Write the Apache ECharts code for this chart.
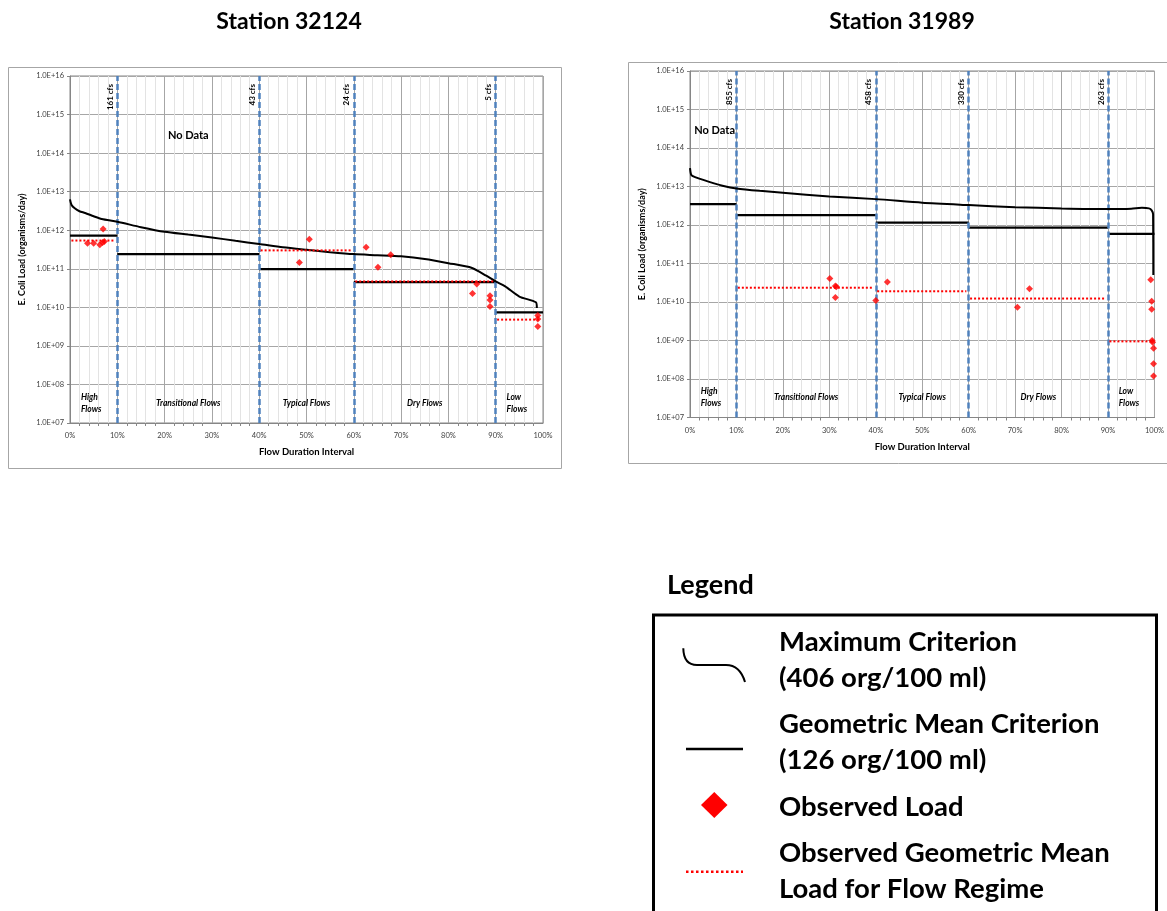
<!DOCTYPE html>
<html><head><meta charset="utf-8">
<script src="https://cdn.jsdelivr.net/npm/echarts@6/dist/echarts.min.js"></script>
<style>html,body{margin:0;padding:0;background:#fff}#c{width:1167px;height:911px}</style>
</head><body><div id="c"></div>
<script>
// ---------- data ----------
const regimeBounds = [0, 10, 40, 60, 90, 100];
const regimeNames = ['High\nFlows', 'Transitional Flows', 'Typical Flows', 'Dry Flows', 'Low\nFlows'];
const xTicks = [0, 10, 20, 30, 40, 50, 60, 70, 80, 90, 100];

// Station 32124
const s1Title = 'Station 32124';
const s1FlowLabels = ['161 cfs', '43 cfs', '24 cfs', '5 cfs'];
const s1MaxX = [0, 0.3, 1, 2, 3.2, 5, 6.7, 10, 15, 20, 25, 30, 35, 40, 45, 50, 55, 60, 65, 70, 75, 80, 85, 88, 90, 92, 95, 98.5, 98.7];
const s1MaxY = [6.3e12, 4.6e12, 3.7e12, 3.1e12, 2.8e12, 2.3e12, 1.95e12, 1.66e12, 1.2e12, 9.1e11, 7.7e11, 6.5e11, 5.3e11, 4.4e11, 3.6e11, 3.1e11, 2.7e11, 2.4e11, 2.25e11, 2.1e11, 1.8e11, 1.4e11, 1.05e11, 6.6e10, 4.7e10, 3.5e10, 1.9e10, 1.35e10, 9.6e9];
const s1GeoCrit = [7.2e11, 2.4e11, 9.8e10, 4.5e10, 7.4e9];
const s1ObsGeo = [5.4e11, null, 3.0e11, 4.7e10, 4.8e9];
const s1ObsX = [3.7, 5.0, 6.3, 6.9, 7.25, 7.0, 48.5, 50.6, 62.6, 65.1, 67.8, 85.1, 86.0, 88.8, 88.8, 88.8, 98.9, 98.9, 98.9];
const s1ObsY = [4.6e11, 4.6e11, 4.2e11, 4.8e11, 5.1e11, 1.07e12, 1.45e11, 5.8e11, 3.6e11, 1.1e11, 2.3e11, 2.3e10, 4.0e10, 2.0e10, 1.55e10, 1.05e10, 6.1e9, 5.0e9, 3.2e9];

// Station 31989
const s2Title = 'Station 31989';
const s2FlowLabels = ['855 cfs', '458 cfs', '330 cfs', '263 cfs'];
const s2MaxX = [0, 0.2, 0.5, 2, 4.3, 7, 10, 15, 20, 30, 40, 50, 60, 70, 80, 90, 95, 97.3, 98.8, 99.4, 99.7, 99.75];
const s2MaxY = [3.0e13, 2.1e13, 1.9e13, 1.6e13, 1.3e13, 1.05e13, 8.9e12, 7.7e12, 6.9e12, 5.5e12, 4.7e12, 3.8e12, 3.3e12, 2.9e12, 2.7e12, 2.6e12, 2.65e12, 2.8e12, 2.7e12, 2.4e12, 1.9e12, 5.0e10];
const s2GeoCrit = [3.5e12, 1.8e12, 1.15e12, 8.5e11, 5.9e11];
const s2ObsGeo = [null, 2.35e10, 1.9e10, 1.23e10, 9.5e8];
const s2ObsX = [30.1, 31.3, 31.5, 31.3, 40.0, 42.5, 70.5, 73.1, 99.2, 99.4, 99.4, 99.5, 99.6, 99.8, 99.8, 99.8];
const s2ObsY = [4.1e10, 2.6e10, 2.5e10, 1.3e10, 1.1e10, 3.3e10, 7.3e9, 2.2e10, 3.8e10, 1.05e10, 6.5e9, 1.0e9, 9.0e8, 6.3e8, 2.5e8, 1.2e8];

const legendItems = ['Maximum Criterion\n(406 org/100 ml)', 'Geometric Mean Criterion\n(126 org/100 ml)', 'Observed Load', 'Observed Geometric Mean\nLoad for Flow Regime'];

// ---------- layout ----------
const FONT = 'Lato';
const stations = [
  {title: s1Title, flow: s1FlowLabels, maxX: s1MaxX, maxY: s1MaxY, geo: s1GeoCrit, obsGeo: s1ObsGeo, ox: s1ObsX, oy: s1ObsY,
   grid: {left: 70, top: 76, width: 473, height: 347}, box: [8.5, 67.5, 553, 401], titleX: 289},
  {title: s2Title, flow: s2FlowLabels, maxX: s2MaxX, maxY: s2MaxY, geo: s2GeoCrit, obsGeo: s2ObsGeo, ox: s2ObsX, oy: s2ObsY,
   grid: {left: 690, top: 71, width: 473, height: 346.5}, box: [628.5, 62.5, 600, 401], titleX: 902}
];

const chart = echarts.init(document.getElementById('c'), null, {renderer: 'canvas'});

const grids = [], xAxes = [], yAxes = [], series = [];
stations.forEach((st, i) => {
  grids.push(Object.assign({show: true, borderColor: '#868686', borderWidth: 1, backgroundColor: 'transparent'}, st.grid));
  xAxes.push({
    type: 'value', gridIndex: i, min: 0, max: 100, interval: 10,
    name: 'Flow Duration Interval', nameLocation: 'middle', nameGap: 24,
    nameTextStyle: {fontFamily: FONT, fontSize: 9.5, fontWeight: 'bold', color: '#000'},
    axisLine: {show: true, lineStyle: {color: '#868686'}},
    axisTick: {show: false},
    minorTick: {show: true, splitNumber: 5, length: 3, lineStyle: {color: '#868686'}},
    minorSplitLine: {show: true, lineStyle: {color: '#e3e3e3', width: 1}},
    splitLine: {show: true, lineStyle: {color: '#a6a6a6', width: 1}},
    axisLabel: {formatter: '{value}%', fontFamily: FONT, fontSize: 7.5, color: '#404040', margin: 9}
  });
  yAxes.push({
    type: 'log', logBase: 10, gridIndex: i, min: 1e7, max: 1e16, interval: 1,
    name: 'E. Coli Load (organisms/day)', nameLocation: 'middle', nameGap: 43,
    nameTextStyle: {fontFamily: FONT, fontSize: 9, fontWeight: 'bold', color: '#000'},
    axisLine: {show: true, lineStyle: {color: '#868686'}},
    axisTick: {show: true, length: 3, lineStyle: {color: '#868686'}},
    splitLine: {show: true, lineStyle: {color: '#a6a6a6', width: 1}},
    axisLabel: {fontFamily: FONT, fontSize: 7.5, color: '#404040', margin: 6,
      formatter: v => { const e = Math.round(Math.log10(v)); return '1.0E+' + (e < 10 ? '0' : '') + e; }}
  });
  series.push({
    type: 'line', xAxisIndex: i, yAxisIndex: i, data: [], z: 1, silent: true,
    markLine: {
      symbol: 'none', silent: true, animation: false,
      lineStyle: {color: '#4f81bd', type: [6, 3], width: 2.5},
      label: {show: true, position: 'insideEndTop', fontFamily: FONT, fontSize: 8, fontWeight: 'bold', color: '#000', distance: [8, 3]},
      data: regimeBounds.slice(1, 5).map((b, k) => ({xAxis: b, label: {formatter: st.flow[k]}}))
    }
  });
  series.push({
    type: 'line', xAxisIndex: i, yAxisIndex: i, z: 5, showSymbol: false, smooth: 0.25, animation: false,
    lineStyle: {color: '#000', width: 2},
    data: st.maxX.map((x, k) => [x, st.maxY[k]])
  });
  for (let r = 0; r < 5; r++) {
    const a = regimeBounds[r], b = regimeBounds[r + 1];
    series.push({
      type: 'line', xAxisIndex: i, yAxisIndex: i, z: 4, showSymbol: false, animation: false,
      lineStyle: {color: '#000', width: 2.2},
      data: [[a, st.geo[r]], [b, st.geo[r]]]
    });
    if (st.obsGeo[r] != null) {
      series.push({
        type: 'line', xAxisIndex: i, yAxisIndex: i, z: 6, showSymbol: false, animation: false,
        lineStyle: {color: '#ff0000', width: 2, type: [2, 2]},
        data: [[a + 0.3, st.obsGeo[r]], [b - 0.5, st.obsGeo[r]]]
      });
    }
  }
  series.push({
    type: 'scatter', xAxisIndex: i, yAxisIndex: i, z: 7, symbol: 'diamond', symbolSize: 7, animation: false,
    itemStyle: {color: '#ff0000'},
    data: st.ox.map((x, k) => [x, st.oy[k]])
  });
});

chart.setOption({
  animation: false,
  grid: grids, xAxis: xAxes, yAxis: yAxes, series: series
});

// ---------- annotations / frames / legend ----------
const g = [];
stations.forEach((st, i) => {
  g.push({type: 'rect', shape: {x: st.box[0], y: st.box[1], width: st.box[2], height: st.box[3]},
    style: {fill: 'none', stroke: '#a6a6a6', lineWidth: 1}, z: 0});
  g.push({type: 'text', x: st.titleX, y: 22, style: {text: st.title, font: 'bold 23px ' + FONT, fill: '#000', textAlign: 'center', textVerticalAlign: 'middle'}});
  const yLab = Math.pow(10, 7.52);
  const px = (x, y) => chart.convertToPixel({gridIndex: i}, [x, y]);
  const spots = [[2.3, 'left'], [25, 'center'], [50, 'center'], [75, 'center'], [92.3, 'left']];
  regimeNames.forEach((nm, k) => {
    const p = px(spots[k][0], yLab);
    g.push({type: 'text', x: p[0], y: p[1], z: 10, style: {text: nm, font: 'italic bold 8.5px ' + FONT, lineHeight: 12, fill: '#000', textAlign: spots[k][1], textVerticalAlign: 'middle'}});
  });
  const nd = px(i === 0 ? 25 : 5.3, Math.pow(10, 14.46));
  g.push({type: 'text', x: nd[0], y: nd[1], z: 10, style: {text: 'No Data', font: 'bold 11px ' + FONT, fill: '#000', textAlign: 'center', textVerticalAlign: 'middle'}});
});

g.push({type: 'text', x: 667, y: 585, style: {text: 'Legend', font: 'bold 27px ' + FONT, fill: '#000', textAlign: 'left', textVerticalAlign: 'middle'}});
g.push({type: 'rect', shape: {x: 653.5, y: 615, width: 503, height: 320}, style: {fill: 'none', stroke: '#000', lineWidth: 3}});
g.push({type: 'bezierCurve', shape: {x1: 683.3, y1: 648.3, cpx1: 683.5, cpy1: 660, cpx2: 688, cpy2: 665, x2: 697, y2: 665}, style: {fill: 'none', stroke: '#000', lineWidth: 2}});
g.push({type: 'line', shape: {x1: 697, y1: 665, x2: 726, y2: 665}, style: {stroke: '#000', lineWidth: 2}});
g.push({type: 'bezierCurve', shape: {x1: 726, y1: 665, cpx1: 736, cpy1: 665, cpx2: 742, cpy2: 672, x2: 745, y2: 682}, style: {fill: 'none', stroke: '#000', lineWidth: 2}});
g.push({type: 'line', shape: {x1: 686, y1: 749, x2: 743, y2: 749}, style: {stroke: '#000', lineWidth: 2.5}});
g.push({type: 'polygon', shape: {points: [[714.3, 792], [727.5, 805], [714.3, 818], [701, 805]]}, style: {fill: '#ff0000'}});
g.push({type: 'line', shape: {x1: 686, y1: 871.7, x2: 743, y2: 871.7}, style: {stroke: '#ff0000', lineWidth: 2.5, lineDash: [2.5, 2.5]}});
const legY = [660, 742, 806.7, 871];
legendItems.forEach((t, k) => {
  g.push({type: 'text', x: 779, y: legY[k], style: {text: t, font: 'bold 27.5px ' + FONT, lineHeight: 36, fill: '#000', textAlign: 'left', textVerticalAlign: 'middle'}});
});

chart.setOption({graphic: g});
</script>
</body></html>
